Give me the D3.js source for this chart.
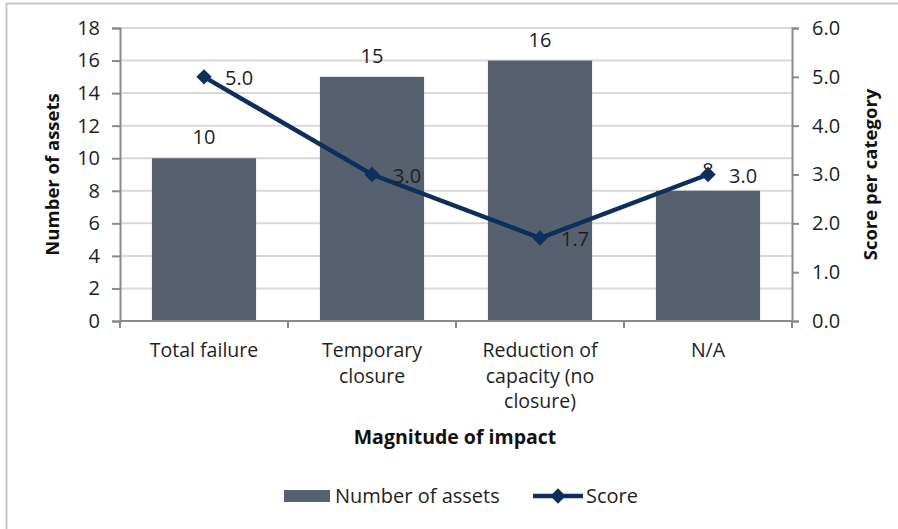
<!DOCTYPE html>
<html>
<head>
<meta charset="utf-8">
<script src="https://cdn.jsdelivr.net/npm/d3@7"></script>
<style>
  body { margin: 0; background: #fff; }
  svg { font-family: "Open Sans", sans-serif; }
</style>
</head>
<body>
<svg id="chart" width="898" height="529"></svg>
<script>
const categories = [['Total failure'], ['Temporary', 'closure'], ['Reduction of', 'capacity (no', 'closure)'], ['N/A']];
const assetCounts = [10, 15, 16, 8];
const scores = [5.0, 3.0, 1.7, 3.0];
const leftTicks = [0, 2, 4, 6, 8, 10, 12, 14, 16, 18];
const rightTicks = [0, 1, 2, 3, 4, 5, 6];

const svg = d3.select('#chart');
const margin = {top: 28, left: 120, right: 106, bottom: 208};
const width = 898 - margin.left - margin.right;
const height = 529 - margin.top - margin.bottom;

const barColor = '#566170';
const lineColor = '#0e2f5c';
const axisColor = '#898989';
const gridColor = '#d9d9d9';
const textColor = '#1e1e1e';

// outer frame (only left and top edges fall inside the picture)
svg.append('rect')
  .attr('x', 6.5).attr('y', 3.5)
  .attr('width', 950).attr('height', 600)
  .attr('fill', 'none').attr('stroke', '#c8c8c8').attr('stroke-width', 2);

const g = svg.append('g').attr('transform', 'translate(' + margin.left + ',' + margin.top + ')');

const names = categories.map(c => c.join(' '));
const x = d3.scaleBand().domain(names).range([0, width]).paddingInner(0.38).paddingOuter(0.19);
const y = d3.scaleLinear().domain([0, 18]).range([height, 0]);
const y2 = d3.scaleLinear().domain([0, 6]).range([height, 0]);

// grid
g.selectAll('.grid')
  .data(leftTicks.filter(d => d > 0))
  .enter().append('line')
  .attr('x1', 0).attr('x2', width)
  .attr('y1', d => y(d)).attr('y2', d => y(d))
  .attr('stroke', gridColor).attr('stroke-width', 2);

// bars
g.selectAll('.bar')
  .data(assetCounts)
  .enter().append('rect')
  .attr('x', (d, i) => x(names[i]))
  .attr('width', x.bandwidth())
  .attr('y', d => y(d))
  .attr('height', d => height - y(d))
  .attr('fill', barColor);

g.selectAll('.barLabel')
  .data(assetCounts)
  .enter().append('text')
  .attr('x', (d, i) => x(names[i]) + x.bandwidth() / 2)
  .attr('y', d => y(d) - 14)
  .attr('text-anchor', 'middle')
  .attr('font-size', 20)
  .attr('fill', textColor)
  .text(d => d);

// axes
const leftAxis = g.append('g')
  .call(d3.axisLeft(y).tickValues(leftTicks).tickSize(8).tickPadding(12));
const rightAxis = g.append('g')
  .attr('transform', 'translate(' + width + ',0)')
  .call(d3.axisRight(y2).tickValues(rightTicks).tickSize(7).tickPadding(13).tickFormat(d3.format('.1f')));
[leftAxis, rightAxis].forEach(a => {
  a.select('.domain').attr('stroke', axisColor).attr('stroke-width', 2);
  a.selectAll('.tick line').attr('stroke', axisColor).attr('stroke-width', 2);
  a.selectAll('.tick text').attr('font-size', 20).attr('fill', textColor).attr('font-family', '"Open Sans", sans-serif');
});

// bottom axis line + boundary ticks
g.append('line')
  .attr('x1', 0).attr('x2', width).attr('y1', height).attr('y2', height)
  .attr('stroke', axisColor).attr('stroke-width', 2);
const bounds = names.map(n => x(n) - x.step() * x.paddingInner() / 2).concat([width]);
bounds[0] = 0;
g.selectAll('.xtick')
  .data(bounds)
  .enter().append('line')
  .attr('x1', d => d).attr('x2', d => d)
  .attr('y1', height).attr('y2', height + 7)
  .attr('stroke', axisColor).attr('stroke-width', 2);

// category labels
const catLabels = g.selectAll('.cat')
  .data(categories)
  .enter().append('text')
  .attr('text-anchor', 'middle')
  .attr('font-size', 19.5)
  .attr('fill', textColor)
  .attr('transform', (d, i) => 'translate(' + (x(names[i]) + x.bandwidth() / 2) + ',' + (height + 36) + ')');
catLabels.selectAll('tspan')
  .data(d => d)
  .enter().append('tspan')
  .attr('x', 0)
  .attr('dy', (d, i) => i === 0 ? 0 : 25.5)
  .text(d => d);

// score line
const cx = i => x(names[i]) + x.bandwidth() / 2;
const line = d3.line().x((d, i) => cx(i)).y(d => y2(d));
g.append('path')
  .datum(scores)
  .attr('d', line)
  .attr('fill', 'none')
  .attr('stroke', lineColor)
  .attr('stroke-width', 4.5);

const diamond = d3.symbol().type(d3.symbolDiamond2).size(150);
g.selectAll('.pt')
  .data(scores)
  .enter().append('path')
  .attr('d', diamond)
  .attr('transform', (d, i) => 'translate(' + cx(i) + ',' + y2(d) + ')')
  .attr('fill', lineColor);

g.selectAll('.scoreLabel')
  .data(scores)
  .enter().append('text')
  .attr('x', (d, i) => cx(i) + 21)
  .attr('y', d => y2(d) + 8)
  .attr('font-size', 20)
  .attr('fill', textColor)
  .text(d => d3.format('.1f')(d));

// axis titles
svg.append('text')
  .attr('transform', 'translate(59,' + (margin.top + height / 2) + ') rotate(-90)')
  .attr('text-anchor', 'middle')
  .attr('font-size', 18.5).attr('font-weight', 'bold').attr('fill', '#111')
  .text('Number of assets');
svg.append('text')
  .attr('transform', 'translate(877,' + (margin.top + height / 2) + ') rotate(-90)')
  .attr('text-anchor', 'middle')
  .attr('font-size', 18.5).attr('font-weight', 'bold').attr('fill', '#111')
  .text('Score per category');
svg.append('text')
  .attr('x', margin.left + width / 2 - 1)
  .attr('y', 444)
  .attr('text-anchor', 'middle')
  .attr('font-size', 19.5).attr('font-weight', 'bold').attr('fill', '#111')
  .text('Magnitude of impact');

// legend
const legend = svg.append('g');
legend.append('rect')
  .attr('x', 284).attr('y', 490).attr('width', 46).attr('height', 12)
  .attr('fill', barColor);
legend.append('text')
  .attr('x', 335).attr('y', 503)
  .attr('font-size', 20).attr('fill', textColor)
  .text('Number of assets');
legend.append('line')
  .attr('x1', 533).attr('x2', 583).attr('y1', 496).attr('y2', 496)
  .attr('stroke', lineColor).attr('stroke-width', 4.5);
legend.append('path')
  .attr('d', diamond)
  .attr('transform', 'translate(558,496)')
  .attr('fill', lineColor);
legend.append('text')
  .attr('x', 586).attr('y', 503)
  .attr('font-size', 20).attr('fill', textColor)
  .text('Score');
</script>
</body>
</html>
